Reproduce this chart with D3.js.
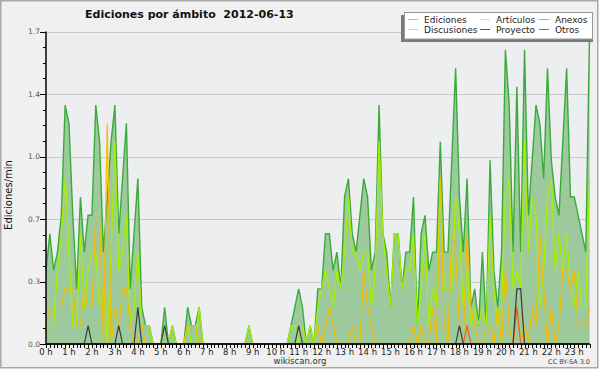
<!DOCTYPE html>
<html>
<head>
<meta charset="utf-8"/>
<script src="https://cdnjs.cloudflare.com/ajax/libs/d3/7.8.5/d3.min.js"></script>
<style>
  body { margin: 0; background: #fff; }
  text { font-family: "DejaVu Sans", sans-serif; }
</style>
</head>
<body>
<script>
// one value every 10 minutes, edits per minute (6 values per hour, last hour ends at 23:40)
const ediciones = [
  0.4,0.6,0.4,0.5,0.7,1.3,  1.2,0.7,0.3,0.8,0.5,0.7,  0.7,1.3,1.1,0.5,0.8,1.1,  1.3,0.6,0.9,1.2,0.3,0.6,
  0.9,0.2,0.1,0.1,0,0,      0,0.2,0,0.1,0,0,          0,0.2,0.1,0.1,0.2,0,      0,0,0,0,0,0,
  0,0,0,0,0,0.1,            0,0,0,0,0,0,              0,0,0,0,0.1,0.2,          0.3,0.2,0,0.1,0,0.3,
  0.3,0.6,0.6,0.4,0.5,0.3,  0.8,0.9,0.6,0.5,0.7,0.9,  0.8,0.4,0.5,1.3,0.6,0.5,  0.2,0.6,0.6,0.3,0.5,0.5,
  0.8,0.1,0.6,0.7,0.4,0.5,  0.5,1.1,0.5,0.5,1.0,1.5,  0.8,0.5,0.9,0.2,0.3,0.1,  0.5,0.1,1.0,0.4,0.2,0.5,
  1.6,1.3,0.5,1.4,0.5,1.6,  0.7,1.0,1.3,1.2,0.9,1.5,  1.0,0.8,0.7,1.1,1.5,0.8,  0.8,0.7,0.6,0.5,1.7
];
const articulos = [
  0.1,0.1,0.1,0.4,0.6,0.9,  0.5,0.1,0.1,0.6,0.2,0.4,  0.5,0.5,0.2,0.3,0,0.5,    1.1,0.4,0.5,0.7,0.1,0.2,
  0.5,0.1,0.1,0.1,0,0,      0,0.1,0,0.1,0,0,          0,0.1,0,0,0.2,0,          0,0,0,0,0,0,
  0,0,0,0,0,0.1,            0,0,0,0,0,0,              0,0,0,0,0.1,0.1,          0,0.1,0,0.1,0,0.2,
  0.3,0.4,0.3,0.2,0.4,0.3,  0.5,0.8,0.5,0.5,0.4,0.5,  0.5,0.2,0.4,1.1,0.6,0.4,  0.2,0.6,0.6,0.3,0.4,0.4,
  0.6,0.1,0.3,0.6,0.1,0.3,  0.2,0.9,0.3,0.3,0.3,0.8,  0.6,0.2,0.4,0.1,0.2,0.1,  0.2,0.1,0.7,0.3,0.1,0.2,
  0.8,0.9,0.3,0.4,0.3,1.1,  0.5,0.8,0.7,0.2,0.4,0.8,  0.9,0.4,0.6,0.4,0.6,0.3,  0.2,0.4,0.2,0.2,0.9
];
const discusiones = [
  0.1,0.2,0.2,0.2,0.2,0.3,  0.3,0.3,0.1,0.1,0.3,0.2,  0.2,0.7,0.7,0,1.2,0,      0.2,0.1,0.3,0.3,0.1,0,
  0,0.1,0,0,0,0,            0,0,0,0,0,0,              0,0.1,0.1,0.1,0,0,        0,0,0,0,0,0,
  0,0,0,0,0,0,              0,0,0,0,0,0,              0,0,0,0,0,0,              0,0,0,0,0,0.1,
  0,0.1,0.2,0.1,0,0,        0,0,0.1,0,0,0.4,          0.2,0.1,0,0,0,0,          0,0,0,0,0,0,
  0.1,0,0.1,0,0,0.2,        0,0.9,0.1,0,0.6,0.5,      0.1,0,0.6,0.2,0.1,0,      0,0.1,0.1,0,0.2,0,
  0.4,0.1,0,0.2,0,0.1,      0,0.2,0.1,0.6,0.3,0,      0.2,0,0.1,0.4,0.4,0.3,    0.4,0.1,0.1,0.1,0.2
];
const anexos = [
  0,0,0,0,0,0, 0,0,0,0,0,0, 0,0,0,0,0,0, 0,0,0,0,0,0,
  0,0,0,0,0,0, 0,0,0,0,0,0, 0,0,0,0,0,0, 0,0,0,0,0,0,
  0,0,0,0,0,0, 0,0,0,0,0,0, 0,0,0,0,0,0, 0,0,0,0,0,0,
  0,0,0,0,0,0, 0,0,0,0,0,0, 0,0,0,0,0,0, 0,0,0,0,0,0,
  0,0,0,0,0,0, 0,0,0,0,0,0, 0,0,0.1,0,0,0, 0,0,0,0,0,0,
  0,0,0,0.2,0,0, 0,0,0,0,0,0, 0,0,0,0,0,0, 0,0,0,0,0
];
const proyecto = [
  0,0,0,0,0,0, 0,0,0,0,0,0.1, 0,0,0,0,0,0, 0,0.1,0,0,0,0,
  0.2,0,0,0,0,0, 0,0.1,0,0,0,0, 0,0,0,0,0,0, 0,0,0,0,0,0,
  0,0,0,0,0,0, 0,0,0,0,0,0, 0,0,0,0,0,0, 0.1,0,0,0,0,0,
  0,0,0,0,0,0, 0,0,0,0,0,0, 0,0,0,0,0,0, 0,0,0,0,0,0,
  0,0,0,0,0,0, 0,0,0,0,0,0, 0.1,0,0,0,0,0, 0,0,0,0,0,0,
  0,0,0,0.3,0.3,0, 0,0,0,0,0,0, 0,0,0,0,0,0, 0,0,0,0,0
];
const otros = ediciones.map(() => 0);

const hourLabels = d3.range(24).map(h => h + " h");
const yMax = 1.7;

const legendItems = [
  {name: "Ediciones",   color: "#8fd08f"},
  {name: "Artículos",   color: "#d4f56a"},
  {name: "Anexos",      color: "#f58a5c"},
  {name: "Discusiones", color: "#fad45a"},
  {name: "Proyecto",    color: "#555555"},
  {name: "Otros",       color: "#9a5cf0"}
];

const width = 600, height = 370;
const margin = {top: 31.5, right: 10.4, bottom: 26, left: 46};

const svg = d3.select("body").append("svg")
    .attr("width", width)
    .attr("height", height);

// frame
svg.append("rect")
    .attr("x", 0.75).attr("y", 0.75)
    .attr("width", 597).attr("height", 367)
    .attr("fill", "#f0f0f0")
    .attr("stroke", "#a8a8a8")
    .attr("stroke-width", 1.5);

const x = d3.scaleLinear()
    .domain([0, ediciones.length - 1])
    .range([margin.left, width - margin.right]);

const y = d3.scaleLinear()
    .domain([0, yMax])
    .range([height - margin.bottom, margin.top]);

// plot background
svg.append("rect")
    .attr("x", x(0)).attr("y", y(yMax))
    .attr("width", x.range()[1] - x(0))
    .attr("height", y(0) - y(yMax))
    .attr("fill", "#eceef0");

const majorY = d3.range(6).map(k => yMax * k / 5);
const minorY = d3.range(21).map(k => yMax * k / 20);

// grid
svg.append("g")
    .selectAll("line")
    .data(majorY.slice(1))
    .join("line")
    .attr("x1", x(0)).attr("x2", x.range()[1])
    .attr("y1", d => Math.round(y(d)) + 0.5)
    .attr("y2", d => Math.round(y(d)) + 0.5)
    .attr("stroke", "#c9c9c9")
    .attr("stroke-width", 1);

// total as filled area
const area = d3.area()
    .x((d, i) => x(i))
    .y0(y(0))
    .y1(d => y(d));

const line = d3.line()
    .x((d, i) => x(i))
    .y(d => y(d));

svg.append("path")
    .attr("d", area(ediciones))
    .attr("fill", "#9dca9d");

svg.append("path")
    .attr("d", line(ediciones))
    .attr("fill", "none")
    .attr("stroke", "#3aab3a")
    .attr("stroke-width", 1.4);

const series = [
  {values: articulos,   color: "#a8ee00", w: 1.3},
  {values: discusiones, color: "#f4bc00", w: 1.2},
  {values: otros,       color: "#9a5cf0", w: 1},
  {values: anexos,      color: "#ee5a22", w: 1.2},
  {values: proyecto,    color: "#3a3a3a", w: 1.2}
];

svg.append("g")
    .selectAll("path")
    .data(series)
    .join("path")
    .attr("d", d => line(d.values))
    .attr("fill", "none")
    .attr("stroke", d => d.color)
    .attr("stroke-width", d => d.w)
    .attr("stroke-linejoin", "miter");

// y axis
const yAxis = svg.append("g");
yAxis.append("line")
    .attr("x1", x(0)).attr("x2", x(0))
    .attr("y1", y(yMax)).attr("y2", y(0))
    .attr("stroke", "#000").attr("stroke-width", 1.5);
yAxis.selectAll(".minor")
    .data(minorY)
    .join("line")
    .attr("x1", x(0) - 3).attr("x2", x(0))
    .attr("y1", d => Math.round(y(d)) + 0.5)
    .attr("y2", d => Math.round(y(d)) + 0.5)
    .attr("stroke", "#000");
yAxis.selectAll(".major")
    .data(majorY)
    .join("line")
    .attr("x1", x(0) - 6).attr("x2", x(0))
    .attr("y1", d => Math.round(y(d)) + 0.5)
    .attr("y2", d => Math.round(y(d)) + 0.5)
    .attr("stroke", "#000");
yAxis.selectAll("text")
    .data(majorY)
    .join("text")
    .attr("x", x(0) - 6)
    .attr("y", d => y(d) + 2.5)
    .attr("text-anchor", "end")
    .attr("font-size", 7.5)
    .attr("fill", "#555")
    .text(d => d3.format(".1f")(d));

// x axis
const xAxis = svg.append("g");
xAxis.selectAll(".minor")
    .data(d3.range(ediciones.length))
    .join("line")
    .attr("x1", d => Math.round(x(d)) + 0.5)
    .attr("x2", d => Math.round(x(d)) + 0.5)
    .attr("y1", y(0)).attr("y2", y(0) + 4)
    .attr("stroke", "#000");
xAxis.append("line")
    .attr("x1", x(0)).attr("x2", x.range()[1])
    .attr("y1", y(0)).attr("y2", y(0))
    .attr("stroke", "#000").attr("stroke-width", 1.5);
xAxis.selectAll("text")
    .data(hourLabels)
    .join("text")
    .attr("x", (d, i) => x(i * 6))
    .attr("y", y(0) + 11)
    .attr("text-anchor", "middle")
    .attr("font-size", 8.5)
    .attr("fill", "#222")
    .text(d => d);

// title
svg.append("text")
    .attr("x", 85)
    .attr("y", 18)
    .attr("font-size", 11)
    .attr("font-weight", "bold")
    .attr("fill", "#111")
    .style("white-space", "pre")
    .text("Ediciones por ámbito  2012-06-13");

// y label
svg.append("text")
    .attr("transform", "translate(12,195) rotate(-90)")
    .attr("text-anchor", "middle")
    .attr("font-size", 10)
    .attr("fill", "#111")
    .text("Ediciones/min");

// footer
svg.append("text")
    .attr("x", 300).attr("y", 364)
    .attr("text-anchor", "middle")
    .attr("font-size", 8.5)
    .attr("fill", "#333")
    .text("wikiscan.org");
svg.append("text")
    .attr("x", 590).attr("y", 364)
    .attr("text-anchor", "end")
    .attr("font-size", 6.5)
    .attr("fill", "#444")
    .text("CC BY-SA  3.0");

// legend
const lg = svg.append("g");
lg.append("rect")
    .attr("x", 401).attr("y", 15)
    .attr("width", 192).attr("height", 27)
    .attr("fill", "#7a7a7a");
lg.append("rect")
    .attr("x", 404.5).attr("y", 12.5)
    .attr("width", 188).attr("height", 26.5)
    .attr("fill", "#fff")
    .attr("stroke", "#999");
const colX = [408, 480, 539];
const rowY = [19.5, 29.5];
const legendPos = [[0, 0], [1, 0], [2, 0], [0, 1], [1, 1], [2, 1]];
const items = lg.selectAll("g")
    .data(legendItems)
    .join("g")
    .attr("transform", (d, i) => `translate(${colX[legendPos[i][0]]},${rowY[legendPos[i][1]]})`);
items.append("line")
    .attr("x1", 0).attr("x2", 10)
    .attr("stroke", d => d.color)
    .attr("stroke-width", 1);
items.append("text")
    .attr("x", 16).attr("y", 3.5)
    .attr("font-size", 9)
    .attr("fill", "#222")
    .text(d => d.name);
</script>
</body>
</html>
